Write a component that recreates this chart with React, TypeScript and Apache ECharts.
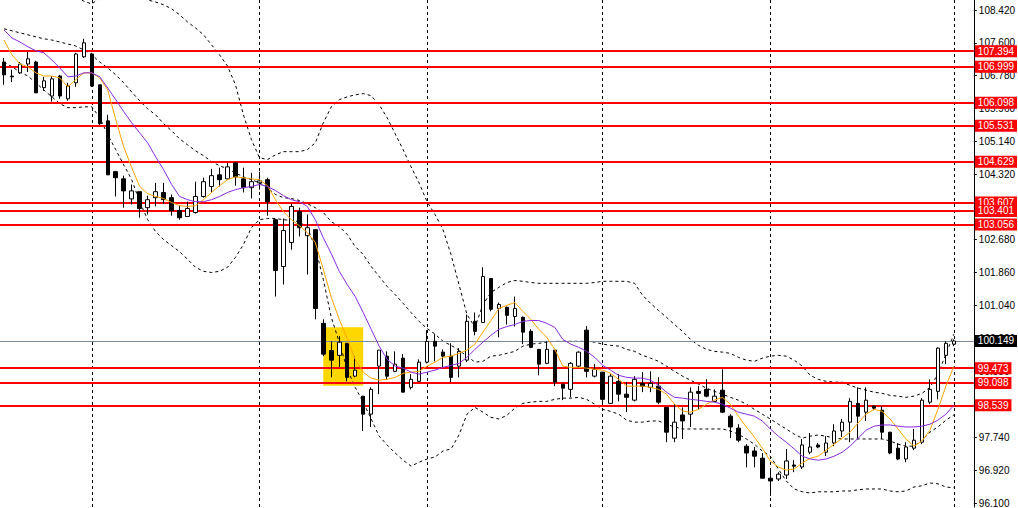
import React, { useEffect, useRef } from "react";
import * as echarts from "echarts";

// [open, close, low, high]
const ohlc: number[][] = [
  [107.12, 106.8, 106.55, 107.22], [106.77, 106.75, 106.62, 106.93], [106.85, 107.07, 106.82, 107.12], [107.07, 107.2, 106.87, 107.37],
  [107.12, 106.35, 106.35, 107.15], [106.48, 106.65, 106.4, 106.75], [106.27, 106.7, 106.13, 106.77], [106.77, 106.27, 106.2, 106.8],
  [106.2, 106.52, 106.15, 106.6], [106.6, 107.32, 106.5, 107.35], [107.25, 107.6, 107.22, 107.7], [107.32, 106.52, 106.5, 107.35],
  [106.55, 105.58, 105.55, 106.55], [105.65, 104.3, 104.3, 105.8], [104.38, 104.23, 103.76, 104.4], [104.2, 103.9, 103.48, 104.28],
  [103.7, 103.9, 103.56, 104.06], [103.88, 103.46, 103.23, 103.88], [103.48, 103.68, 103.31, 103.78], [103.73, 103.88, 103.51, 104.1],
  [103.86, 103.68, 103.58, 104.1], [103.73, 103.41, 103.28, 103.81], [103.41, 103.23, 103.18, 103.53], [103.26, 103.46, 103.26, 103.63],
  [103.36, 103.76, 103.33, 104.13], [103.76, 104.13, 103.73, 104.23], [104.01, 104.28, 103.86, 104.45], [104.3, 104.18, 104.01, 104.48],
  [104.2, 104.5, 104.18, 104.6], [104.6, 104.25, 104.03, 104.6], [104.2, 103.98, 103.86, 104.48], [103.98, 104.13, 103.71, 104.35],
  [104.1, 104.15, 103.93, 104.38], [104.18, 103.63, 103.28, 104.23], [103.18, 101.91, 101.26, 103.18], [102.01, 102.91, 101.56, 103.21],
  [102.61, 103.51, 102.43, 103.58], [103.38, 102.98, 102.76, 103.48], [102.78, 102.98, 101.81, 103.31], [102.93, 100.96, 100.69, 102.93],
  [100.59, 99.82, 99.77, 100.69], [99.91, 99.67, 99.24, 100.14], [99.79, 100.12, 99.49, 100.27], [100.09, 99.24, 99.14, 100.09],
  [99.27, 99.42, 99.24, 99.77], [98.77, 98.32, 97.9, 98.77], [98.32, 98.94, 98.0, 98.99], [99.52, 99.92, 98.82, 99.92],
  [99.77, 99.27, 99.19, 99.89], [99.39, 99.57, 99.37, 99.89], [99.72, 98.87, 98.87, 99.82], [98.99, 99.19, 98.94, 99.32],
  [99.14, 99.62, 99.12, 99.69], [99.62, 100.14, 99.59, 100.42], [100.14, 100.02, 99.64, 100.32], [99.87, 99.77, 99.47, 99.94],
  [99.77, 99.24, 99.12, 100.09], [99.52, 99.89, 99.24, 99.97], [99.67, 100.64, 99.62, 100.81], [100.64, 100.39, 100.29, 100.86],
  [100.61, 101.76, 100.61, 101.99], [101.71, 100.94, 100.89, 101.71], [100.96, 101.06, 100.24, 101.11], [100.99, 100.79, 100.56, 101.01],
  [100.76, 100.96, 100.51, 101.26], [100.74, 100.37, 100.07, 100.76], [100.39, 99.99, 99.97, 100.44], [99.94, 99.57, 99.29, 99.94],
  [99.59, 99.94, 99.57, 100.14], [99.92, 99.12, 99.02, 99.92], [99.07, 98.97, 98.67, 99.07], [98.94, 99.59, 98.74, 99.62],
  [99.52, 99.87, 99.49, 99.89], [100.42, 99.39, 99.24, 100.52], [99.27, 99.44, 99.24, 99.57], [99.37, 98.69, 98.57, 99.37],
  [98.59, 99.27, 98.59, 99.32], [99.14, 98.82, 98.64, 99.32], [98.82, 98.74, 98.37, 99.12], [98.67, 99.19, 98.64, 99.27],
  [99.09, 99.02, 98.87, 99.37], [98.99, 99.09, 98.87, 99.39], [99.02, 98.62, 98.57, 99.24], [98.49, 97.87, 97.62, 98.49],
  [97.72, 98.12, 97.62, 98.57], [98.3, 98.15, 97.7, 98.49], [98.32, 98.87, 98.0, 98.99], [98.89, 98.84, 98.44, 99.02],
  [98.94, 98.77, 98.74, 99.19], [98.64, 98.77, 98.62, 98.94], [98.92, 98.37, 98.35, 99.44], [98.27, 98.0, 97.72, 98.32],
  [97.97, 97.67, 97.62, 98.07], [97.52, 97.35, 96.99, 97.57], [97.4, 97.27, 96.99, 97.5], [97.22, 96.72, 96.72, 97.35],
  [96.72, 96.65, 96.28, 96.95], [96.7, 96.82, 96.65, 96.87], [96.8, 97.15, 96.7, 97.45], [97.05, 97.02, 96.87, 97.17],
  [97.0, 97.55, 96.95, 97.7], [97.37, 97.5, 97.32, 97.85], [97.55, 97.5, 97.47, 97.6], [97.37, 97.6, 97.27, 97.77],
  [97.6, 97.9, 97.52, 98.07], [97.9, 98.12, 97.75, 98.2], [98.12, 98.64, 97.62, 98.72], [98.59, 98.27, 97.7, 98.99],
  [98.37, 98.67, 98.15, 98.99], [98.52, 98.47, 98.42, 98.54], [98.42, 97.87, 97.7, 98.52], [97.87, 97.35, 97.32, 97.87],
  [97.47, 97.2, 97.17, 97.6], [97.2, 97.5, 97.12, 97.62], [97.47, 97.67, 97.42, 97.95], [97.62, 98.67, 97.57, 98.72],
  [98.62, 98.94, 98.57, 99.19], [98.89, 99.97, 98.69, 99.99], [99.79, 100.09, 99.57, 100.14], [100.07, 100.149, 100.02, 100.19],
];

const fastMA = [
  107.67, 107.3, 107.07, 107.0, 106.85, 106.77, 106.77, 106.72, 106.5, 106.68, 106.85, 106.85, 106.72, 106.42, 105.68, 105.0,
  104.48, 104.01, 103.83, 103.76, 103.71, 103.61, 103.53, 103.51, 103.53, 103.68, 103.86, 104.03, 104.18, 104.25, 104.23, 104.2,
  104.18, 104.03, 103.68, 103.38, 103.18, 103.03, 102.86, 102.61, 101.94, 101.24, 100.69, 100.21, 99.69, 99.37, 99.22, 99.17,
  99.19, 99.24, 99.34, 99.37, 99.39, 99.52, 99.62, 99.74, 99.77, 99.84, 99.92, 100.07, 100.37, 100.66, 100.96, 101.04,
  101.11, 100.89, 100.69, 100.44, 100.24, 99.94, 99.52, 99.49, 99.49, 99.47, 99.44, 99.42, 99.34, 99.19, 99.02, 99.02,
  99.02, 98.99, 98.94, 98.82, 98.57, 98.4, 98.37, 98.44, 98.57, 98.67, 98.74, 98.57, 98.27, 98.0, 97.75, 97.47,
  97.15, 97.0, 96.92, 96.95, 97.1, 97.22, 97.27, 97.42, 97.57, 97.72, 97.87, 98.1, 98.32, 98.44, 98.39, 98.2,
  97.95, 97.7, 97.52, 97.65, 97.92, 98.44, 99.02, 99.52,
];

const slowMA = [
  107.92, 107.72, 107.62, 107.5, 107.4, 107.35, 107.17, 106.97, 106.75, 106.77, 106.85, 106.85, 106.75, 106.47, 106.18, 105.88,
  105.6, 105.35, 105.1, 104.75, 104.43, 104.06, 103.76, 103.68, 103.63, 103.63, 103.68, 103.76, 103.86, 103.93, 103.98, 104.01,
  104.06, 104.01, 103.91, 103.78, 103.68, 103.63, 103.51, 103.18, 102.73, 102.33, 101.89, 101.56, 101.26, 100.86, 100.44, 100.02,
  99.69, 99.52, 99.47, 99.37, 99.32, 99.37, 99.42, 99.49, 99.54, 99.59, 99.74, 99.94, 100.12, 100.29, 100.44, 100.51,
  100.56, 100.64, 100.66, 100.66, 100.59, 100.49, 100.19, 100.07, 99.99, 99.89, 99.74, 99.54, 99.42, 99.29, 99.24, 99.22,
  99.22, 99.17, 99.04, 98.87, 98.74, 98.72, 98.69, 98.67, 98.64, 98.62, 98.57, 98.47, 98.37, 98.32, 98.27, 98.15,
  97.95, 97.77, 97.62, 97.45, 97.27, 97.2, 97.17, 97.2, 97.27, 97.37, 97.52, 97.72, 97.92, 98.02, 98.05, 98.05,
  98.02, 98.0, 98.0, 98.02, 98.07, 98.17, 98.32, 98.54,
];

const bbUpper = [
  109.42, 109.37, 109.32, 109.27, 109.22, 109.14, 109.07, 108.97, 108.87, 108.74, 108.64, 108.57, 108.72, 109.17, 109.42, 109.42,
  109.29, 108.97, 108.67, 108.62, 108.55, 108.45, 108.3, 108.12, 107.97, 107.8, 107.55, 107.3, 107.02, 106.55, 105.8, 105.18,
  104.73, 104.68, 104.8, 104.88, 104.88, 104.88, 104.93, 105.1, 105.6, 106.0, 106.18, 106.25, 106.3, 106.33, 106.28, 106.05,
  105.73, 105.33, 104.93, 104.5, 104.1, 103.63, 103.31, 102.93, 102.31, 101.56, 100.81, 100.49, 101.06, 101.36, 101.49, 101.61,
  101.66, 101.64, 101.61, 101.59, 101.59, 101.59, 101.59, 101.59, 101.59, 101.59, 101.61, 101.64, 101.64, 101.64, 101.64, 101.59,
  101.29, 101.09, 100.91, 100.74, 100.56, 100.39, 100.19, 100.04, 99.94, 99.89, 99.87, 99.84, 99.74, 99.67, 99.64, 99.72,
  99.77, 99.79, 99.77, 99.67, 99.52, 99.29, 99.19, 99.14, 99.12, 99.12, 99.04, 98.97, 98.92, 98.87, 98.84, 98.79,
  98.77, 98.74, 98.77, 98.84, 98.99, 99.32, 99.82, 100.32,
];

const bbMiddle = [
  107.95, 107.9, 107.85, 107.8, 107.75, 107.7, 107.67, 107.62, 107.57, 107.52, 107.42, 107.3, 107.12, 106.97, 106.8, 106.6,
  106.37, 106.15, 105.95, 105.8, 105.58, 105.4, 105.2, 105.05, 104.9, 104.78, 104.63, 104.53, 104.45, 104.35, 104.25, 104.18,
  104.1, 103.98, 103.81, 103.73, 103.71, 103.66, 103.58, 103.48, 103.36, 103.13, 103.01, 102.81, 102.51, 102.31, 102.01, 101.76,
  101.51, 101.31, 101.09, 100.86, 100.64, 100.46, 100.32, 100.14, 100.04, 99.92, 99.77, 99.62, 99.64, 99.77, 99.79, 99.84,
  99.89, 100.02, 100.07, 100.09, 100.12, 100.14, 100.14, 100.14, 100.14, 100.14, 100.12, 100.07, 100.04, 100.02, 99.94, 99.89,
  99.79, 99.72, 99.64, 99.52, 99.39, 99.27, 99.17, 99.07, 98.97, 98.89, 98.82, 98.74, 98.67, 98.57, 98.44, 98.32,
  98.2, 98.07, 97.95, 97.82, 97.72, 97.77, 97.8, 97.77, 97.72, 97.7, 97.7, 97.7, 97.7, 97.7, 97.7, 97.65,
  97.57, 97.52, 97.52, 97.67, 97.87, 98.0, 98.17, 98.3,
];

const bbLower = [
  107.12, 107.0, 106.87, 106.77, 106.6, 106.42, 106.25, 106.08, 105.98, 105.98, 106.0, 106.0, 105.73, 105.3, 104.93, 104.55,
  104.18, 103.63, 103.18, 102.88, 102.68, 102.53, 102.38, 102.19, 101.99, 101.89, 101.86, 101.89, 101.99, 102.24, 102.56, 102.98,
  103.18, 103.21, 103.21, 103.18, 103.16, 103.13, 102.98, 102.49, 101.69, 100.74, 100.12, 99.44, 98.99, 98.62, 98.2, 97.77,
  97.55, 97.35, 97.17, 97.02, 97.12, 97.2, 97.25, 97.4, 97.45, 97.8, 98.32, 98.49, 98.37, 98.24, 98.2, 98.29,
  98.47, 98.59, 98.62, 98.64, 98.64, 98.69, 98.72, 98.72, 98.74, 98.69, 98.57, 98.44, 98.39, 98.32, 98.17, 98.12,
  98.12, 98.15, 98.15, 98.07, 98.0, 97.95, 97.95, 97.95, 97.95, 97.95, 97.95, 97.9, 97.82, 97.7, 97.57, 97.4,
  97.27, 96.95, 96.65, 96.45, 96.38, 96.35, 96.38, 96.38, 96.38, 96.4, 96.4, 96.43, 96.45, 96.45, 96.45, 96.4,
  96.38, 96.4, 96.5, 96.53, 96.6, 96.58, 96.5, 96.48,
];

const levels = [107.394, 106.999, 106.098, 105.531, 104.629, 103.607, 103.401, 103.056, 99.473, 99.098, 98.539];
const currentPrice = 100.149;
const tickValues = [96.1, 96.92, 97.74, 98.56, 99.38, 100.2, 101.04, 101.86, 102.68, 103.5, 104.32, 105.14, 105.96, 106.78, 107.6, 108.42];
const separators = [11, 32, 53, 75, 96, 119];
const highlightX = [40, 45];
const highlightY = [100.49, 99.03];
const yRange = [96.0, 108.67];

const FONT = "'Liberation Sans', Arial, sans-serif";
const FONT_SIZE = 10;

export default function App() {
  const ref = useRef<HTMLDivElement>(null);

  useEffect(() => {
    const chart = echarts.init(ref.current as HTMLDivElement, null, { renderer: "svg" });
    const categories = Array.from({ length: ohlc.length + 2 }, (_, i) => "b" + i);
    const dashed = (name: string, data: number[]) => ({
      name,
      type: "line",
      data,
      symbol: "none",
      z: 4,
      silent: true,
      lineStyle: { color: "#000000", width: 1, type: [3, 3] },
    });
    const solid = (name: string, data: number[], color: string) => ({
      name,
      type: "line",
      data,
      symbol: "none",
      z: 6,
      silent: true,
      lineStyle: { color, width: 1 },
    });
    const tag = (value: number, bg: string) => ({
      show: true,
      position: "end",
      distance: 1,
      formatter: () => value.toFixed(3),
      color: "#ffffff",
      backgroundColor: bg,
      padding: [1, 3, 0, 3],
      lineHeight: 11,
      fontSize: FONT_SIZE,
      fontFamily: FONT,
    });

    chart.setOption({
      animation: false,
      backgroundColor: "#ffffff",
      grid: { left: -2, right: 44, top: 0, bottom: 0 },
      xAxis: { type: "category", data: categories, boundaryGap: true, show: false },
      yAxis: {
        type: "value",
        position: "right",
        min: yRange[0],
        max: yRange[1],
        splitLine: { show: false },
        axisLine: { show: true, lineStyle: { color: "#000000", width: 1 } },
        axisTick: { show: true, length: 3, customValues: tickValues, lineStyle: { color: "#000000" } },
        axisLabel: {
          customValues: tickValues,
          formatter: (v: number) => v.toFixed(3),
          color: "#000000",
          fontSize: FONT_SIZE,
          fontFamily: FONT,
          margin: 5,
        },
      },
      series: [
        {
          name: "zones",
          type: "line",
          data: [],
          z: 1,
          silent: true,
          markArea: {
            silent: true,
            itemStyle: { color: "#ffd700", opacity: 1 },
            data: [[{ xAxis: highlightX[0], yAxis: highlightY[0] }, { xAxis: highlightX[1], yAxis: highlightY[1] }]],
          },
          markLine: {
            silent: true,
            symbol: ["none", "none"],
            label: { show: false },
            lineStyle: { color: "#000000", width: 1, type: [3, 3] },
            data: separators.map((i) => ({ xAxis: i })),
          },
        },
        dashed("BB upper", bbUpper),
        dashed("BB middle", bbMiddle),
        dashed("BB lower", bbLower),
        {
          name: "price",
          type: "candlestick",
          data: ohlc,
          barWidth: 4,
          z: 5,
          silent: true,
          itemStyle: {
            color: "#ffffff",
            color0: "#000000",
            borderColor: "#000000",
            borderColor0: "#000000",
            borderWidth: 1,
          },
        },
        solid("MA fast", fastMA, "#ffa500"),
        solid("MA slow", slowMA, "#8a2be2"),
        {
          name: "levels",
          type: "line",
          data: [],
          z: 10,
          silent: true,
          markLine: {
            silent: true,
            symbol: ["none", "none"],
            data: [
              ...levels.map((v) => ({
                yAxis: v,
                lineStyle: { color: "#ff0000", width: 2, type: "solid" },
                label: tag(v, "#ff0000"),
              })),
              {
                yAxis: currentPrice,
                lineStyle: { color: "#778899", width: 1, type: "solid" },
                label: tag(currentPrice, "#000000"),
              },
            ],
          },
        },
      ],
    });

    return () => chart.dispose();
  }, []);

  return <div ref={ref} style={{ position: "fixed", left: 0, top: 0, width: 1018, height: 508 }} />;
}
